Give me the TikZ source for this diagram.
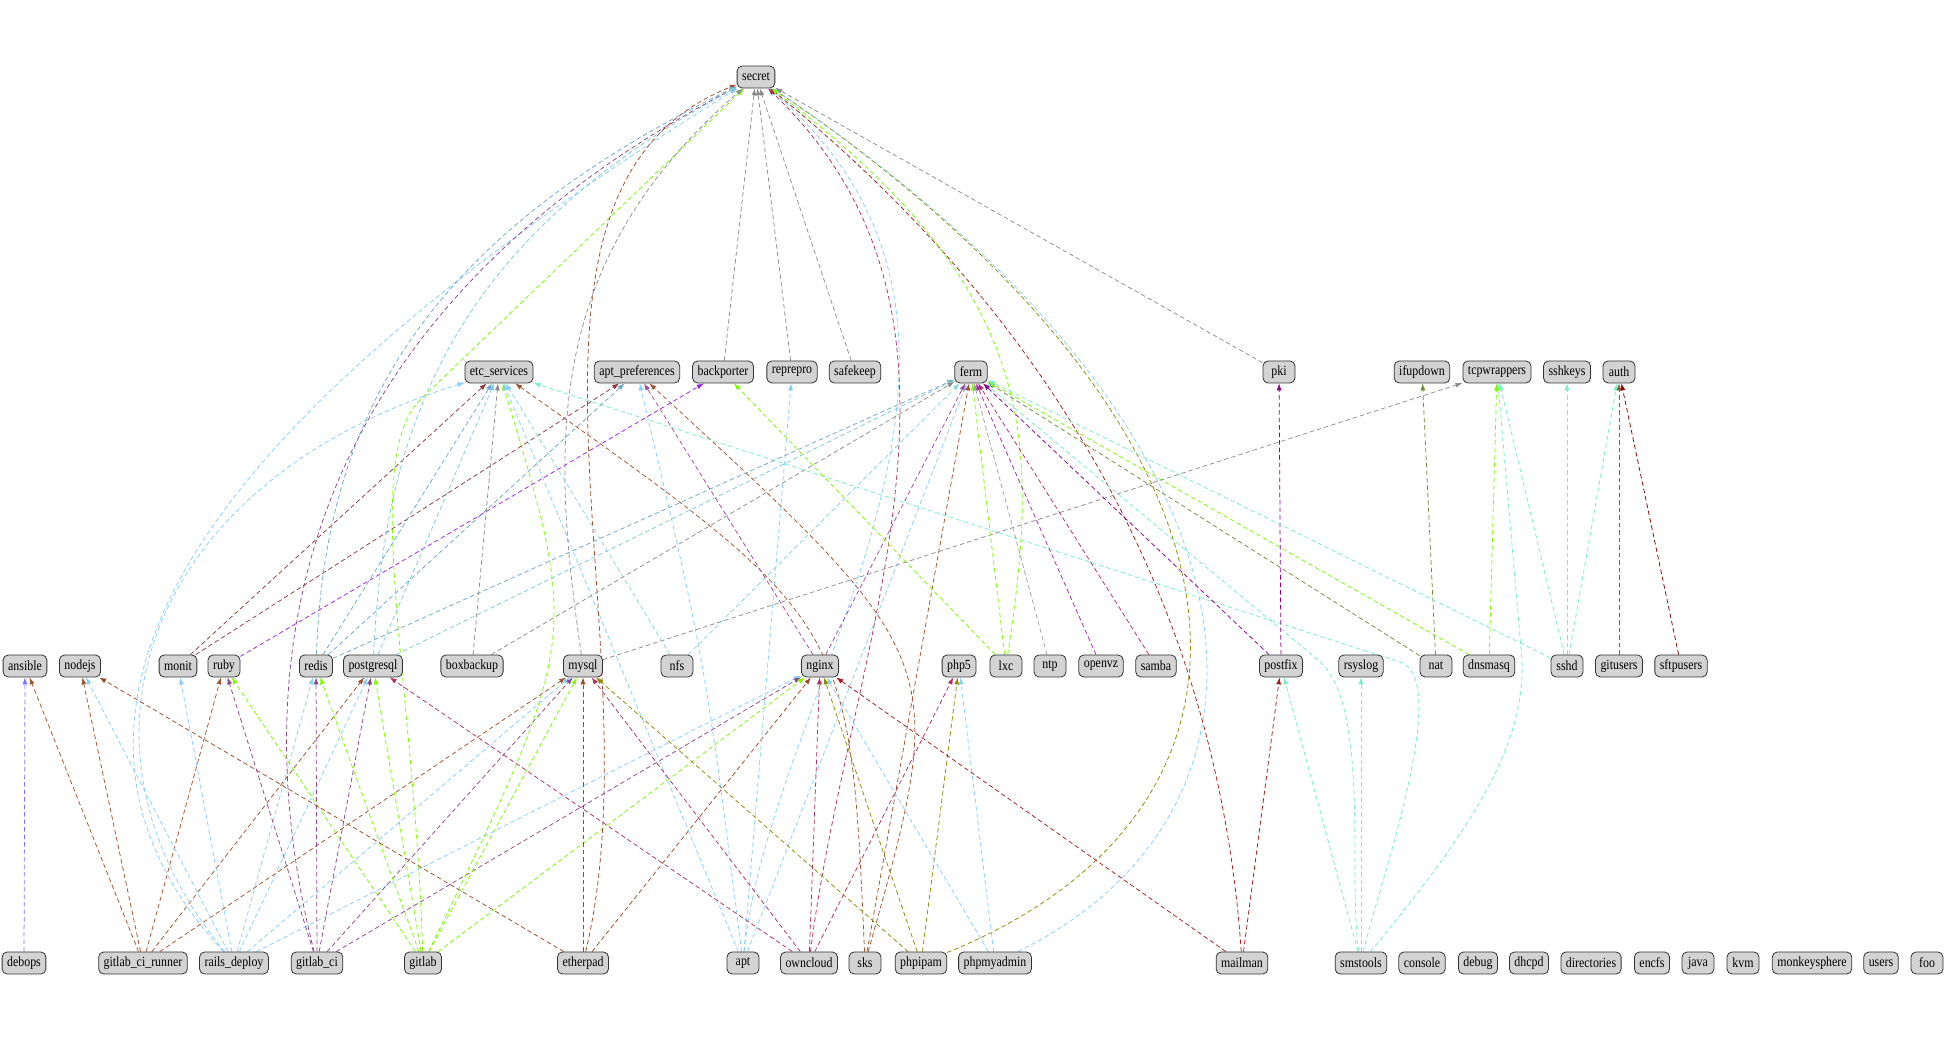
\documentclass[tikz,border=0pt]{standalone}
\usepackage{fontspec}
\setmainfont{Liberation Serif}[FakeStretch=0.85]
\usepackage{xcolor}
\usepackage{tikz}
\usetikzlibrary{arrows.meta, backgrounds}

\definecolor{nodefill}{HTML}{D3D3D3}
\definecolor{slatex}{HTML}{8470FF}
\definecolor{siennax}{HTML}{A0522D}
\definecolor{skyx}{HTML}{87CEFA}
\definecolor{orchidx}{HTML}{8B4789}
\definecolor{lawnx}{HTML}{7CFC00}
\definecolor{rustx}{HTML}{9A4A2A}
\definecolor{maroonx}{HTML}{B03060}
\definecolor{olivex}{HTML}{8B8B00}
\definecolor{firebrickx}{HTML}{A01C1C}
\definecolor{aquax}{HTML}{76EEC6}
\definecolor{indianx}{HTML}{8B3A3A}
\definecolor{purplex}{HTML}{A020F0}
\definecolor{steelx}{HTML}{6CA6CD}
\definecolor{cadetx}{HTML}{7EC8D8}
\definecolor{grayx}{HTML}{8C8C8C}
\definecolor{turqx}{HTML}{8ED3DF}
\definecolor{plumx}{HTML}{A04AA0}
\definecolor{magentax}{HTML}{A827A8}
\definecolor{dmagentax}{HTML}{8B008B}
\definecolor{drabx}{HTML}{6E8B3D}
\definecolor{darkredx}{HTML}{8B0000}
\definecolor{lgrayx}{HTML}{A0A0A0}

\begin{document}
\begin{tikzpicture}[
    x=1pt, y=1pt,
    pkg/.style={
        rectangle, draw=black!80, fill=nodefill, rounded corners=5pt,
        line width=0.8pt, minimum width=32pt, minimum height=22pt,
        inner xsep=5pt, inner ysep=0pt,
        font=\fontsize{14}{15}\selectfont
    },
    dep/.style={draw=#1, line width=0.75pt, dash pattern=on 4.5pt off 3pt,
        -{Latex[length=7pt,width=5pt]}}
]
    \useasboundingbox (0,0) rectangle (1946,1040);

    \node[pkg] (secret) at (756,963) {secret};

    \node[pkg] (etcsvc) at (499,668) {etc\_services};
    \node[pkg] (aptprefs) at (637,668) {apt\_preferences};
    \node[pkg] (backporter) at (723,668) {backporter};
    \node[pkg] (reprepro) at (792,668) {reprepro};
    \node[pkg] (safekeep) at (855,668) {safekeep};
    \node[pkg] (ferm) at (971,668) {ferm};
    \node[pkg] (pki) at (1279,668) {pki};
    \node[pkg] (ifupdown) at (1422,668) {ifupdown};
    \node[pkg] (tcpwrappers) at (1497,668) {tcpwrappers};
    \node[pkg] (sshkeys) at (1567,668) {sshkeys};
    \node[pkg] (auth) at (1619,668) {auth};

    \node[pkg] (ansible) at (25,374) {ansible};
    \node[pkg] (nodejs) at (80,374) {nodejs};
    \node[pkg] (monit) at (178,374) {monit};
    \node[pkg] (ruby) at (224,374) {ruby};
    \node[pkg] (redis) at (316,374) {redis};
    \node[pkg] (postgresql) at (373,374) {postgresql};
    \node[pkg] (boxbackup) at (472,374) {boxbackup};
    \node[pkg] (mysql) at (583,374) {mysql};
    \node[pkg] (nfs) at (677,374) {nfs};
    \node[pkg] (nginx) at (820,374) {nginx};
    \node[pkg] (php5) at (959,374) {php5};
    \node[pkg] (lxc) at (1006,374) {lxc};
    \node[pkg] (ntp) at (1050,374) {ntp};
    \node[pkg] (openvz) at (1101,374) {openvz};
    \node[pkg] (samba) at (1156,374) {samba};
    \node[pkg] (postfix) at (1281,374) {postfix};
    \node[pkg] (rsyslog) at (1361,374) {rsyslog};
    \node[pkg] (nat) at (1436,374) {nat};
    \node[pkg] (dnsmasq) at (1489,374) {dnsmasq};
    \node[pkg] (sshd) at (1567,374) {sshd};
    \node[pkg] (gitusers) at (1619,374) {gitusers};
    \node[pkg] (sftpusers) at (1681,374) {sftpusers};

    \node[pkg] (debops) at (24,77) {debops};
    \node[pkg] (cirunner) at (143,77) {gitlab\_ci\_runner};
    \node[pkg] (railsdeploy) at (234,77) {rails\_deploy};
    \node[pkg] (gitlabci) at (317,77) {gitlab\_ci};
    \node[pkg] (gitlab) at (423,77) {gitlab};
    \node[pkg] (etherpad) at (583,77) {etherpad};
    \node[pkg] (apt) at (743,77) {apt};
    \node[pkg] (owncloud) at (809,77) {owncloud};
    \node[pkg] (sks) at (865,77) {sks};
    \node[pkg] (phpipam) at (921,77) {phpipam};
    \node[pkg] (phpmyadmin) at (995,77) {phpmyadmin};
    \node[pkg] (mailman) at (1242,77) {mailman};
    \node[pkg] (smstools) at (1361,77) {smstools};
    \node[pkg] (console) at (1422,77) {console};
    \node[pkg] (debug) at (1478,77) {debug};
    \node[pkg] (dhcpd) at (1529,77) {dhcpd};
    \node[pkg] (directories) at (1591,77) {directories};
    \node[pkg] (encfs) at (1652,77) {encfs};
    \node[pkg] (java) at (1698,77) {java};
    \node[pkg] (kvm) at (1743,77) {kvm};
    \node[pkg] (monkeysphere) at (1812,77) {monkeysphere};
    \node[pkg] (users) at (1881,77) {users};
    \node[pkg] (foo) at (1927,77) {foo};

    \begin{scope}[on background layer]
    \draw[dep=slatex] (debops) -- (ansible);

    \draw[dep=siennax] (cirunner) -- (ansible);
    \draw[dep=siennax] (cirunner) -- (nodejs);
    \draw[dep=siennax] (cirunner) -- (ruby);
    \draw[dep=siennax] (cirunner) -- (postgresql);
    \draw[dep=siennax] (cirunner) -- (mysql);

    \draw[dep=skyx] (railsdeploy) -- (nodejs);
    \draw[dep=skyx] (railsdeploy) -- (monit);
    \draw[dep=skyx] (railsdeploy) -- (redis);
    \draw[dep=skyx] (railsdeploy) -- (postgresql);
    \draw[dep=skyx] (railsdeploy) -- (mysql);
    \draw[dep=skyx] (railsdeploy) -- (nginx);
    \draw[dep=skyx] (railsdeploy) .. controls (50,300) and (150,560) .. (etcsvc);
    \draw[dep=skyx] (railsdeploy) .. controls (0,330) and (200,620) .. (secret);

    \draw[dep=orchidx] (gitlabci) -- (ruby);
    \draw[dep=orchidx] (gitlabci) -- (redis);
    \draw[dep=orchidx] (gitlabci) -- (postgresql);
    \draw[dep=orchidx] (gitlabci) -- (mysql);
    \draw[dep=orchidx] (gitlabci) -- (nginx);
    \draw[dep=orchidx] (gitlabci) .. controls (230,420) and (330,740) .. (secret);

    \draw[dep=lawnx] (gitlab) -- (ruby);
    \draw[dep=lawnx] (gitlab) -- (redis);
    \draw[dep=lawnx] (gitlab) -- (postgresql);
    \draw[dep=lawnx] (gitlab) -- (mysql);
    \draw[dep=lawnx] (gitlab) -- (nginx);
    \draw[dep=lawnx] (gitlab) .. controls (580,400) .. (etcsvc);
    \draw[dep=lawnx] (gitlab) .. controls (415,350) and (360,581) .. (420,640) -- (secret);

    \draw[dep=rustx] (etherpad) -- (nodejs);
    \draw[dep=rustx] (etherpad) -- (mysql);
    \draw[dep=rustx] (etherpad) -- (nginx);
    \draw[dep=rustx] (etherpad) .. controls (660,400) and (470,850) .. (secret);

    \draw[dep=skyx] (apt) -- (etcsvc);
    \draw[dep=skyx] (apt) .. controls (705,380) .. (aptprefs);
    \draw[dep=skyx] (apt) -- (reprepro);
    \draw[dep=skyx] (apt) -- (ferm);
    \draw[dep=skyx] (apt) .. controls (770,350) and (1060,700) .. (secret);

    \draw[dep=maroonx] (owncloud) -- (postgresql);
    \draw[dep=maroonx] (owncloud) -- (mysql);
    \draw[dep=maroonx] (owncloud) -- (nginx);
    \draw[dep=maroonx] (owncloud) -- (php5);
    \draw[dep=maroonx] (owncloud) .. controls (850,400) and (1010,720) .. (secret);

    \draw[dep=siennax] (sks) .. controls (850,420) .. (etcsvc);
    \draw[dep=siennax] (sks) .. controls (950,380) .. (aptprefs);
    \draw[dep=siennax] (sks) -- (ferm);

    \draw[dep=olivex] (phpipam) -- (php5);
    \draw[dep=olivex] (phpipam) -- (mysql);
    \draw[dep=olivex] (phpipam) -- (nginx);
    \draw[dep=olivex] (phpipam) .. controls (1300,230) and (1290,600) .. (secret);

    \draw[dep=skyx] (phpmyadmin) -- (php5);
    \draw[dep=skyx] (phpmyadmin) -- (nginx);
    \draw[dep=skyx] (phpmyadmin) .. controls (1305,230) and (1295,600) .. (secret);

    \draw[dep=firebrickx] (mailman) -- (postfix);
    \draw[dep=firebrickx] (mailman) -- (nginx);
    \draw[dep=firebrickx] (mailman) .. controls (1220,400) and (1080,700) .. (secret);

    \draw[dep=aquax] (smstools) -- (postfix);
    \draw[dep=aquax] (smstools) -- (rsyslog);
    \draw[dep=aquax] (smstools) to[out=100,in=-39,looseness=0.6] (1318,380) -- (ferm);
    \draw[dep=aquax] (smstools) to[out=78,in=-18,looseness=0.5] (1400,378) -- (etcsvc);
    \draw[dep=aquax] (smstools) .. controls (1480,220) and (1525,300) .. (1522,380) -- (tcpwrappers);

    \draw[dep=indianx] (monit) -- (etcsvc);
    \draw[dep=indianx] (monit) -- (aptprefs);
    \draw[dep=purplex] (ruby) -- (backporter);
    \draw[dep=steelx] (redis) -- (etcsvc);
    \draw[dep=steelx] (redis) -- (aptprefs);
    \draw[dep=steelx] (redis) -- (ferm);
    \draw[dep=steelx] (redis) .. controls (325,620) and (420,800) .. (secret);
    \draw[dep=cadetx] (postgresql) -- (etcsvc);
    \draw[dep=cadetx] (postgresql) -- (ferm);
    \draw[dep=cadetx] (postgresql) .. controls (385,620) and (455,800) .. (secret);
    \draw[dep=grayx] (boxbackup) -- (etcsvc);
    \draw[dep=grayx] (boxbackup) -- (ferm);
    \draw[dep=grayx] (mysql) .. controls (550,600) and (545,780) .. (secret);
    \draw[dep=grayx] (mysql) -- (tcpwrappers);
    \draw[dep=turqx] (nfs) -- (etcsvc);
    \draw[dep=turqx] (nfs) -- (ferm);
    \draw[dep=plumx] (nginx) -- (aptprefs);
    \draw[dep=plumx] (nginx) -- (ferm);
    \draw[dep=lawnx] (lxc) -- (backporter);
    \draw[dep=lawnx] (lxc) -- (ferm);
    \draw[dep=lawnx] (lxc) .. controls (1040,600) and (1040,750) .. (secret);
    \draw[dep=lgrayx] (ntp) -- (ferm);
    \draw[dep=magentax] (openvz) -- (ferm);
    \draw[dep=maroonx] (samba) -- (ferm);
    \draw[dep=dmagentax] (postfix) -- (pki);
    \draw[dep=dmagentax] (postfix) -- (ferm);
    \draw[dep=drabx] (nat) -- (ifupdown);
    \draw[dep=drabx] (nat) -- (ferm);
    \draw[dep=lawnx] (dnsmasq) -- (tcpwrappers);
    \draw[dep=lawnx] (dnsmasq) -- (ferm);
    \draw[dep=aquax] (sshd) -- (tcpwrappers);
    \draw[dep=aquax] (sshd) -- (sshkeys);
    \draw[dep=aquax] (sshd) -- (auth);
    \draw[dep=aquax] (sshd) -- (ferm);
    \draw[dep=siennax] (gitusers) -- (auth);
    \draw[dep=darkredx] (sftpusers) -- (auth);

    \draw[dep=grayx] (backporter) -- (secret);
    \draw[dep=grayx] (reprepro) -- (secret);
    \draw[dep=grayx] (safekeep) -- (secret);
    \draw[dep=grayx] (pki) -- (secret);
    \end{scope}
\end{tikzpicture}
\end{document}
